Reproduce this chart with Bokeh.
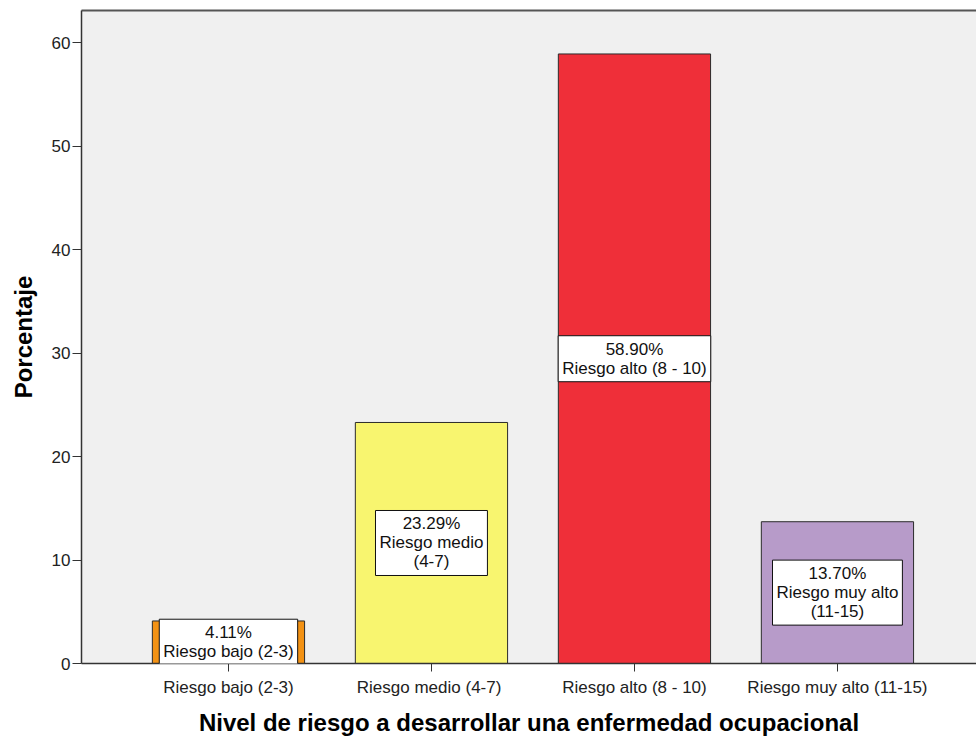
import numpy as np
from bokeh.plotting import figure
from bokeh.models import (ColumnDataSource, Range1d, FixedTicker, LinearAxis,
                          Label)
from bokeh.embed import file_html
from bokeh.resources import INLINE

# Datos: nivel de riesgo a desarrollar una enfermedad ocupacional
categorias = ["Riesgo bajo (2-3)", "Riesgo medio  (4-7)",
              "Riesgo alto (8 - 10)", "Riesgo muy alto (11-15)"]
porcentajes = [4.11, 23.29, 58.90, 13.70]
etiquetas = ["Riesgo bajo (2-3)", "Riesgo medio\n(4-7)",
             "Riesgo alto (8 - 10)", "Riesgo muy alto\n(11-15)"]
colores = ["#f39214", "#f8f56f", "#ef2f39", "#b79bc9"]
marcas_y = [0, 10, 20, 30, 40, 50, 60]

posiciones = np.arange(1, len(categorias) + 1)

src = ColumnDataSource(dict(x=posiciones, top=porcentajes, color=colores))

FONT = "Liberation Sans"

p = figure(width=976, height=739, output_backend="svg", toolbar_location=None,
           x_range=Range1d(0.276, 4.685), y_range=Range1d(0, 63.1),
           min_border_left=81, min_border_right=0, min_border_top=10,
           min_border_bottom=76, x_axis_type=None, y_axis_type=None)
p.background_fill_color = "#f0f0f0"
p.border_fill_color = "white"
p.outline_line_color = None
p.xgrid.visible = False
p.ygrid.visible = False

p.vbar(x="x", top="top", bottom=0, width=0.75, fill_color="color",
       line_color="#2b2b2b", line_width=1, source=src)

# Etiquetas con el porcentaje en el centro de cada barra
for xi, v, nombre in zip(posiciones, porcentajes, etiquetas):
    p.add_layout(Label(x=xi, y=v / 2, text=f"{v:.2f}%\n{nombre}",
                       text_align="center", text_baseline="middle",
                       text_font=FONT, text_font_size="17px",
                       text_color="#111111", text_line_height=1.0,
                       background_fill_color="white",
                       border_line_color="#111111", border_line_width=1,
                       padding=4))

# Eje Y
yax = LinearAxis(ticker=FixedTicker(ticks=marcas_y), axis_label="Porcentaje")
yax.axis_line_color = "#333333"
yax.axis_line_width = 1.5
yax.major_tick_line_color = "#333333"
yax.major_tick_out = 9
yax.major_tick_in = 0
yax.minor_tick_line_color = None
yax.major_label_text_font = FONT
yax.major_label_text_font_size = "17px"
yax.major_label_text_color = "#222222"
yax.major_label_standoff = 2
yax.axis_label_text_font = FONT
yax.axis_label_text_font_size = "24px"
yax.axis_label_text_font_style = "bold"
yax.axis_label_text_color = "#000000"
yax.axis_label_standoff = 12
p.add_layout(yax, "left")

# Eje X
xax = LinearAxis(ticker=FixedTicker(ticks=list(posiciones)),
                 axis_label="Nivel de riesgo a desarrollar una enfermedad ocupacional")
xax.major_label_overrides = {int(k): c for k, c in zip(posiciones, categorias)}
xax.axis_line_color = "#333333"
xax.axis_line_width = 1.5
xax.major_tick_line_color = "#333333"
xax.major_tick_out = 8
xax.major_tick_in = 0
xax.minor_tick_line_color = None
xax.major_label_text_font = FONT
xax.major_label_text_font_size = "17px"
xax.major_label_text_color = "#222222"
xax.major_label_standoff = 6
xax.axis_label_text_font = FONT
xax.axis_label_text_font_size = "24px"
xax.axis_label_text_font_style = "bold"
xax.axis_label_text_color = "#000000"
xax.axis_label_standoff = 9
p.add_layout(xax, "below")

# Borde superior del área de trazado
top_ax = LinearAxis(ticker=FixedTicker(ticks=[]))
top_ax.axis_line_color = "#555555"
top_ax.axis_line_width = 2
top_ax.major_label_text_font_size = "0px"
top_ax.minor_tick_line_color = None
top_ax.major_tick_line_color = None
p.add_layout(top_ax, "above")

open("out.html", "w").write(file_html(p, INLINE))
